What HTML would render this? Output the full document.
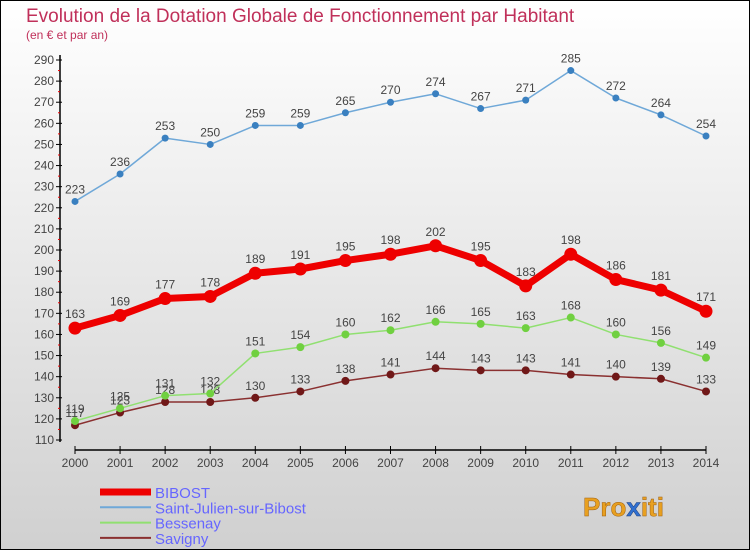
<!DOCTYPE html>
<html><head><meta charset="utf-8"><style>
body{margin:0;width:750px;height:550px;overflow:hidden;font-family:"Liberation Sans",sans-serif}
svg{display:block}
</style></head><body>
<svg width="750" height="550" xmlns="http://www.w3.org/2000/svg">
<defs><linearGradient id="bg" x1="0" y1="0" x2="0" y2="1"><stop offset="0" stop-color="#ffffff"/><stop offset="1" stop-color="#d0d0d0"/></linearGradient></defs>
<rect x="0.5" y="0.5" width="749" height="549" fill="url(#bg)" stroke="#000"/>
<text x="26" y="22" font-size="19" fill="#c0305a">Evolution de la Dotation Globale de Fonctionnement par Habitant</text>
<text x="26" y="39" font-size="12" fill="#c0305a">(en € et par an)</text>
<g id="axes"></g>
<g id="series"></g>
<g id="legend"></g>
<text x="583" y="516" font-size="26" font-weight="bold" fill="#e8a020" stroke="#a06010" stroke-width="0.5">Pro<tspan fill="#3070d0" stroke="#204080">x</tspan>iti</text>
</svg>
<script>
const years=[2000,2001,2002,2003,2004,2005,2006,2007,2008,2009,2010,2011,2012,2013,2014];
const bibost=[163,169,177,178,189,191,195,198,202,195,183,198,186,181,171];
const saintJulien=[223,236,253,250,259,259,265,270,274,267,271,285,272,264,254];
const bessenay=[119,125,131,132,151,154,160,162,166,165,163,168,160,156,149];
const savigny=[117,123,128,128,130,133,138,141,144,143,143,141,140,139,133];
const yTicks=[110,120,130,140,150,160,170,180,190,200,210,220,230,240,250,260,270,280,290];
const NS="http://www.w3.org/2000/svg";
const x=i=>75+i*(706-75)/(years.length-1);
const y=v=>440-(v-110)*(380/180);
function mk(p,t,a){const e=document.createElementNS(NS,t);for(const k in a)e.setAttribute(k,a[k]);p.appendChild(e);return e;}
const ax=document.getElementById('axes');
let l=mk(ax,'line',{x1:60,y1:55,x2:60,y2:442,stroke:'#000','stroke-width':1.5});


l=mk(ax,'line',{x1:75,y1:450,x2:706,y2:450,stroke:'#000','stroke-width':1.5});


yTicks.forEach(v=>{
 mk(ax,'line',{x1:56,y1:y(v),x2:62,y2:y(v),stroke:'#000'});
 if(v<290) mk(ax,'line',{x1:58,y1:y(v+5),x2:60,y2:y(v+5),stroke:'#e00'});
 const t=mk(ax,'text',{x:54,y:y(v)+4,'font-size':12,'text-anchor':'end',fill:'#444'});
 t.textContent=v;
 
 
});
years.forEach((yr,i)=>{
 mk(ax,'line',{x1:x(i),y1:446,x2:x(i),y2:454,stroke:'#000'});
 const t=mk(ax,'text',{x:x(i),y:467,'font-size':12,'text-anchor':'middle',fill:'#444'});
 t.textContent=yr;
 
 
});
const S=document.getElementById('series');
const defs=[
 {n:'saint-julien',d:saintJulien,c:'#6fa8d8',dot:'#3a80c0',w:1.5,r:3.5},
 {n:'savigny',d:savigny,c:'#8a3030',dot:'#701818',w:1.5,r:4},
 {n:'bessenay',d:bessenay,c:'#90e070',dot:'#70d040',w:1.5,r:4},
 {n:'bibost',d:bibost,c:'#ee0000',dot:'#ee0000',w:7,r:6.5}
];
defs.forEach(s=>{
 const g=mk(S,'g',{});
 
 
 const pl=mk(g,'polyline',{points:s.d.map((v,i)=>x(i)+','+y(v)).join(' '),fill:'none',stroke:s.c,'stroke-width':s.w,'stroke-linejoin':'round'});
 
 
 s.d.forEach((v,i)=>{
  const c=mk(g,'circle',{cx:x(i),cy:y(v),r:s.r,fill:s.dot});
  
  
  const t=mk(g,'text',{x:x(i),y:y(v)-(s.n==='bibost'?10:8),'font-size':12,'text-anchor':'middle',fill:'#444'});
  t.textContent=v;
  
  
 });
});
const L=document.getElementById('legend');
[['BIBOST','#ee0000',7],['Saint-Julien-sur-Bibost','#6fa8d8',2],['Bessenay','#90e070',2],['Savigny','#8a3030',2]].forEach((e,i)=>{
 const yy=492+i*15.3;
 const ln=mk(L,'line',{x1:100,y1:yy,x2:151,y2:yy,stroke:e[1],'stroke-width':e[2]});
 
 
 const t=mk(L,'text',{x:155,y:yy+6,'font-size':15,fill:'#6666ff'});
 t.textContent=e[0];
 
 
});
</script>
</body></html>
